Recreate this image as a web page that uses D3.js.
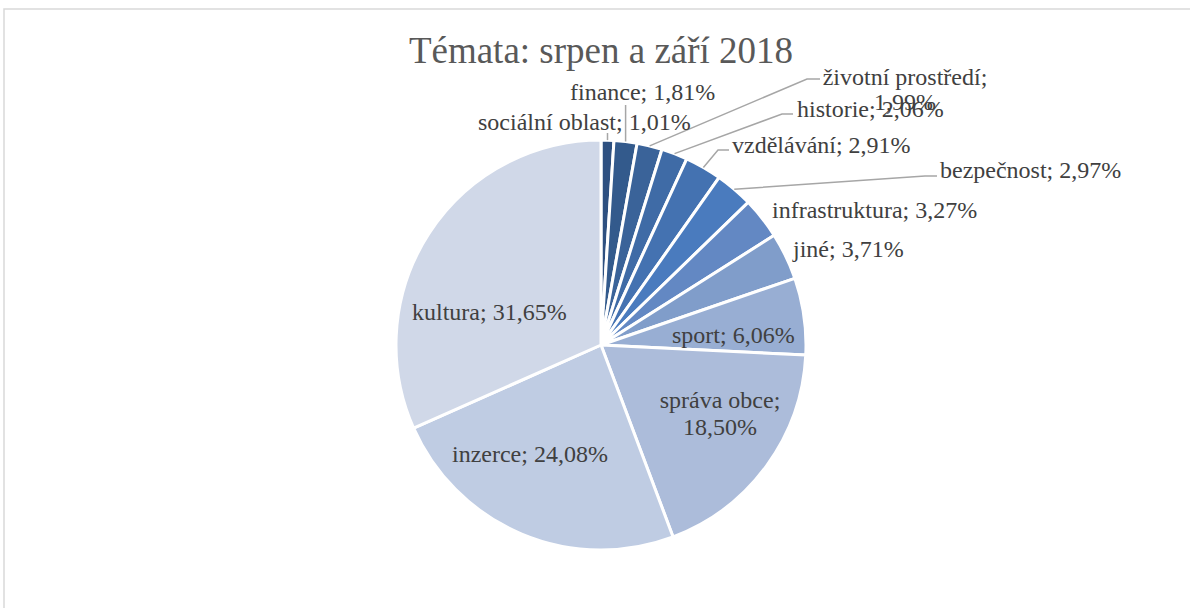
<!DOCTYPE html>
<html lang="cs">
<head>
<meta charset="utf-8">
<title>Témata: srpen a září 2018</title>
<script src="https://cdn.jsdelivr.net/npm/d3@7"></script>
<style>
  html, body { margin: 0; padding: 0; background: #ffffff; }
  svg { display: block; }
  text { font-family: "Liberation Serif", "Times New Roman", serif; }
</style>
</head>
<body>
<svg id="chart" width="1190" height="608"></svg>
<script>
// Topics and their shares (%), clockwise from 12 o'clock
const categories = [
  "sociální oblast", "finance", "životní prostředí", "historie",
  "vzdělávání", "bezpečnost", "infrastruktura", "jiné",
  "sport", "správa obce", "inzerce", "kultura"
];
const shares = [1.01, 1.81, 1.99, 2.06, 2.91, 2.97, 3.27, 3.71, 6.06, 18.50, 24.08, 31.65];
const sliceColors = [
  "#2e5080", "#335a8c", "#3a6399", "#3f6ba6", "#4472b1", "#4a7bbe",
  "#6388c3", "#809dca", "#98aed3", "#acbcda", "#bfcce3", "#d0d8e8"
];
const chartTitle = "Témata: srpen a září 2018";

// Label placement: text lines, anchor, x, baseline y, and optional leader-line bend/end points
const labelLayout = [
  { lines: null, anchor: "start", x: 478, y: 130, leader: [[0, 133]] },
  { lines: null, anchor: "start", x: 570, y: 100, leader: [[0, 105]] },
  { lines: "split", anchor: "middle", x: 905, y: 85, dy: 25, leader: [[807, 79], [820, 79]] },
  { lines: null, anchor: "start", x: 797, y: 117, leader: [[782, 114], [793, 114]] },
  { lines: null, anchor: "start", x: 732, y: 153, leader: [[718, 150], [729, 150]] },
  { lines: null, anchor: "start", x: 940, y: 178, leader: [[925, 176], [937, 176]] },
  { lines: null, anchor: "start", x: 772, y: 218 },
  { lines: null, anchor: "start", x: 793, y: 257 },
  { lines: null, anchor: "start", x: 672, y: 343 },
  { lines: "split", anchor: "middle", x: 720, y: 408, dy: 27 },
  { lines: null, anchor: "start", x: 452, y: 462 },
  { lines: null, anchor: "start", x: 412, y: 320 }
];

const fmt = v => v.toFixed(2).replace(".", ",") + "%";

const svg = d3.select("#chart");
const cx = 601, cy = 345, radius = 205;

// Chart frame
svg.append("rect")
  .attr("x", 4).attr("y", 9)
  .attr("width", 1300).attr("height", 700)
  .attr("fill", "#ffffff")
  .attr("stroke", "#d9d9d9").attr("stroke-width", 1.5);

// Title
svg.append("text")
  .attr("x", 601).attr("y", 63)
  .attr("text-anchor", "middle")
  .attr("font-size", 37)
  .attr("fill", "#595959")
  .text(chartTitle);

const data = categories.map((c, i) => ({ name: c, value: shares[i], color: sliceColors[i], layout: labelLayout[i] }));

const pie = d3.pie().sort(null).value(d => d.value);
const arcs = pie(data);
const arc = d3.arc().innerRadius(0).outerRadius(radius);

const g = svg.append("g").attr("transform", `translate(${cx},${cy})`);

g.selectAll("path.slice")
  .data(arcs)
  .enter().append("path")
  .attr("class", "slice")
  .attr("d", arc)
  .attr("fill", d => d.data.color)
  .attr("stroke", "#ffffff")
  .attr("stroke-width", 3)
  .attr("stroke-linejoin", "round");

// Leader lines from the slice edge to the outer labels
const leaderData = arcs.filter(d => d.data.layout.leader);
svg.selectAll("path.leader")
  .data(leaderData)
  .enter().append("path")
  .attr("class", "leader")
  .attr("fill", "none")
  .attr("stroke", "#a6a6a6")
  .attr("stroke-width", 1.5)
  .attr("d", d => {
    const mid = (d.startAngle + d.endAngle) / 2;
    const sx = cx + radius * Math.sin(mid);
    const sy = cy - radius * Math.cos(mid);
    const pts = [[sx, sy]];
    d.data.layout.leader.forEach(p => {
      // x of 0 means a straight vertical rise above the slice
      pts.push([p[0] === 0 ? sx : p[0], p[1]]);
    });
    return d3.line()(pts);
  });

// Data labels
const labels = svg.selectAll("text.lbl")
  .data(arcs)
  .enter().append("text")
  .attr("class", "lbl")
  .attr("font-size", 24)
  .attr("fill", "#404040")
  .attr("text-anchor", d => d.data.layout.anchor)
  .attr("x", d => d.data.layout.x)
  .attr("y", d => d.data.layout.y);

labels.each(function(d) {
  const t = d3.select(this);
  const L = d.data.layout;
  if (L.lines === "split") {
    t.append("tspan").attr("x", L.x).attr("y", L.y).text(d.data.name + ";");
    t.append("tspan").attr("x", L.x).attr("y", L.y + L.dy).text(fmt(d.data.value));
  } else {
    t.text(d.data.name + "; " + fmt(d.data.value));
  }
});
</script>
</body>
</html>
